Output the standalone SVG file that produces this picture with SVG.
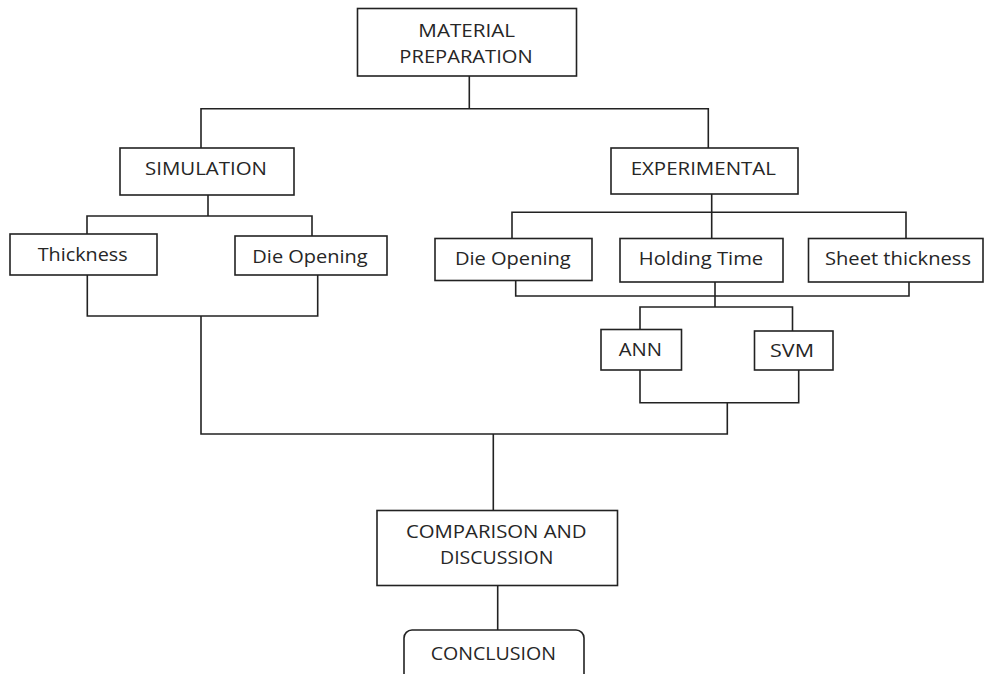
<svg xmlns="http://www.w3.org/2000/svg" width="984" height="674" viewBox="0 0 984 674">
<style>
.box{fill:#fff;stroke:#222;stroke-width:1.6}
.ln{fill:none;stroke:#222;stroke-width:1.6}
text{font-family:"Open Sans","Liberation Sans",sans-serif;font-size:18px;fill:#262626;text-anchor:middle}
</style>
<rect width="984" height="674" fill="#fff"/>
<g id="connectors">
<path class="ln" d="M469.3 76 V108.7 M201 148 V108.7 H708.3 V148"/>
<path class="ln" d="M208 195 V216 M87 234 V216 H312 V236"/>
<path class="ln" d="M87.3 275 V316 H317.7 V275 M201 316 V434 H727.3 V402.7"/>
<path class="ln" d="M711.7 194 V238.5 M512 238.5 V212.3 H906 V238.5"/>
<path class="ln" d="M515.7 280.5 V296 H909 V282 M715 282 V307 M640 329.5 V307 H792.5 V331"/>
<path class="ln" d="M640 370 V402.7 H798.7 V370"/>
<path class="ln" d="M493.3 434 V510.5 M497.7 585.5 V630"/>
</g>
<g id="material-preparation">
<rect class="box" x="357.5" y="8.5" width="219" height="67.5"/>
<text x="466.7" y="36.7" textLength="96.7" lengthAdjust="spacingAndGlyphs">MATERIAL</text>
<text x="466" y="63.3" textLength="133.3" lengthAdjust="spacingAndGlyphs">PREPARATION</text>
</g>
<g id="simulation">
<rect class="box" x="120" y="148" width="174" height="47"/>
<text x="206" y="175" textLength="122" lengthAdjust="spacingAndGlyphs">SIMULATION</text>
</g>
<g id="thickness">
<rect class="box" x="10" y="234" width="147" height="41"/>
<text x="82.7" y="260.7" textLength="90" lengthAdjust="spacingAndGlyphs">Thickness</text>
</g>
<g id="die-opening-sim">
<rect class="box" x="235" y="236" width="152" height="39"/>
<text x="310" y="263" textLength="115.3" lengthAdjust="spacingAndGlyphs">Die Opening</text>
</g>
<g id="experimental">
<rect class="box" x="611" y="148" width="187" height="46"/>
<text x="703.3" y="175" textLength="145.3" lengthAdjust="spacingAndGlyphs">EXPERIMENTAL</text>
</g>
<g id="die-opening-exp">
<rect class="box" x="435" y="238.5" width="157" height="42"/>
<text x="512.8" y="265" textLength="115.8" lengthAdjust="spacingAndGlyphs">Die Opening</text>
</g>
<g id="holding-time">
<rect class="box" x="620" y="238.5" width="163" height="43.5"/>
<text x="701" y="265" textLength="124.3" lengthAdjust="spacingAndGlyphs">Holding Time</text>
</g>
<g id="sheet-thickness">
<rect class="box" x="808.5" y="238.5" width="174.5" height="43.5"/>
<text x="898" y="265" textLength="146" lengthAdjust="spacingAndGlyphs">Sheet thickness</text>
</g>
<g id="ann">
<rect class="box" x="601" y="329.5" width="80.5" height="40.5"/>
<text x="640.4" y="355.7" textLength="43.3" lengthAdjust="spacingAndGlyphs">ANN</text>
</g>
<g id="svm">
<rect class="box" x="754.5" y="331" width="78.5" height="39"/>
<text x="792" y="356.7" textLength="44" lengthAdjust="spacingAndGlyphs">SVM</text>
</g>
<g id="comparison">
<rect class="box" x="377" y="510.5" width="240.5" height="75"/>
<text x="496.3" y="537.7" textLength="180.7" lengthAdjust="spacingAndGlyphs">COMPARISON AND</text>
<text x="496.7" y="564" textLength="113.3" lengthAdjust="spacingAndGlyphs">DISCUSSION</text>
</g>
<g id="conclusion">
<rect class="box" x="404" y="630" width="180" height="70" rx="8" ry="8"/>
<text x="493.3" y="660" textLength="125.3" lengthAdjust="spacingAndGlyphs">CONCLUSION</text>
</g>
</svg>
